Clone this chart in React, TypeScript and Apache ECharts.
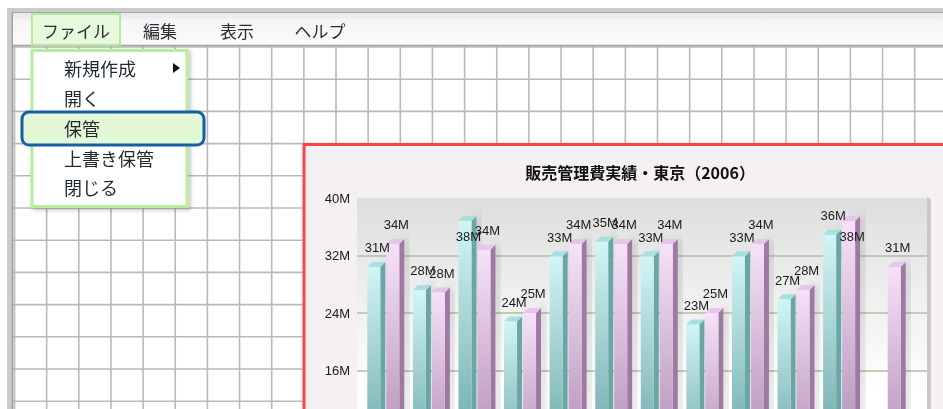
import React, { useEffect, useRef } from "react";
import * as echarts from "echarts";

// ---- data ----
const categories = ["1月", "2月", "3月", "4月", "5月", "6月", "7月", "8月", "9月", "10月", "11月", "12月"];
const cyanValues: (number | null)[] = [31.1, 27.9, 37.5, 23.5, 32.6, 34.6, 32.6, 23.1, 32.6, 26.6, 35.6, null];
const pinkValues: (number | null)[] = [34.3, 27.6, 33.5, 24.7, 34.3, 34.3, 34.3, 24.7, 34.3, 27.9, 37.5, 31.1];
const yMin = 0;
const yMax = 40;
const yInterval = 8;
const yUnit = "M";
const chartTitle = "販売管理費実績・東京（2006）";
const menuBarItems = ["ファイル", "編集", "表示", "ヘルプ"];
const fileMenuItems = ["新規作成", "開く", "保管", "上書き保管", "閉じる"];
const selectedFileItem = "保管";

const FONT_JP = '"Noto Sans CJK JP", "Noto Sans", sans-serif';
const FONT_LAT = '"Liberation Sans", Arial, sans-serif';

type BarColors = { top0: string; top1: string; side: string; cap: string };
const cyanColors: BarColors = { top0: "#d2f5f5", top1: "#5e9c9c", side: "#6aa6a6", cap: "#a8e0e0" };
const pinkColors: BarColors = { top0: "#f6e2f8", top1: "#a882ad", side: "#9e7aa3", cap: "#e4c6e8" };

function makeRender(offset: number, c: BarColors) {
  return (params: any, api: any) => {
    const cat = api.value(0);
    const v = api.value(1);
    if (v == null || isNaN(v)) return null;
    const p = api.coord([cat, v]);
    const base = api.coord([cat, yMin])[1];
    const topLimit = api.coord([cat, yMax])[1];
    const FW = 13, D = 5, H = 5;
    const x0 = p[0] + offset;
    const yb = p[1];
    const yf = yb + H;
    let ly = yb - 14;
    if (ly - 7 < topLimit) ly = yb + 21;
    return {
      type: "group",
      children: [
        {
          type: "polygon",
          shape: { points: [[x0 + FW, yf], [x0 + FW + D, yb], [x0 + FW + D, base - H], [x0 + FW, base]] },
          style: { fill: c.side, shadowBlur: 10, shadowColor: "rgba(0,0,0,0.22)", shadowOffsetX: 3, shadowOffsetY: -2 },
        },
        {
          type: "rect",
          shape: { x: x0, y: yf, width: FW, height: base - yf },
          style: {
            fill: new echarts.graphic.LinearGradient(0, 0, 0, 1, [
              { offset: 0, color: c.top0 },
              { offset: 1, color: c.top1 },
            ]),
          },
        },
        {
          type: "polygon",
          shape: { points: [[x0, yf], [x0 + FW, yf], [x0 + FW + D, yb], [x0 + D, yb]] },
          style: { fill: c.cap },
        },
        {
          type: "text",
          x: x0 + (FW + D) / 2 + 1,
          y: ly,
          z2: 100,
          style: {
            text: Math.round(v) + yUnit,
            textAlign: "center",
            textVerticalAlign: "middle",
            font: "13px " + FONT_LAT,
            fill: "#1a1a1a",
          },
        },
      ],
    };
  };
}

function buildGraphics() {
  const els: any[] = [];
  els.push({ type: "rect", shape: { x: 0, y: 0, width: 943, height: 409 }, style: { fill: "#ffffff" } });
  for (let k = 0; k <= 29; k++) {
    const x = 14.5 + 32.15 * k;
    els.push({ type: "line", shape: { x1: x, y1: 46, x2: x, y2: 409 }, style: { stroke: "#b9b9b9", lineWidth: 1.6 } });
  }
  for (let k = 0; k <= 11; k++) {
    const y = 47 + 32.2 * k;
    els.push({ type: "line", shape: { x1: 13, y1: y, x2: 943, y2: y }, style: { stroke: "#b9b9b9", lineWidth: 1.6 } });
  }
  els.push({ type: "rect", shape: { x: 7, y: 8, width: 5, height: 401 }, style: { fill: "#cbcbcb" } });
  els.push({ type: "rect", shape: { x: 7, y: 8, width: 936, height: 4 }, style: { fill: "#cbcbcb" } });
  els.push({ type: "line", shape: { x1: 12.5, y1: 12, x2: 12.5, y2: 409 }, style: { stroke: "#9c9c9c", lineWidth: 1.5 } });
  els.push({
    type: "rect",
    shape: { x: 13, y: 12.5, width: 930, height: 33 },
    style: {
      fill: new echarts.graphic.LinearGradient(0, 0, 0, 1, [
        { offset: 0, color: "#e6e6e6" },
        { offset: 0.25, color: "#f6f4f6" },
        { offset: 1, color: "#fbfbfb" },
      ]),
    },
  });
  els.push({ type: "line", shape: { x1: 13, y1: 12.5, x2: 943, y2: 12.5 }, style: { stroke: "#a8a8a8", lineWidth: 1 } });
  els.push({ type: "line", shape: { x1: 13, y1: 45.5, x2: 943, y2: 45.5 }, style: { stroke: "#a0a0a0", lineWidth: 1.5 } });
  els.push({
    type: "rect",
    shape: { x: 32, y: 14, width: 88, height: 31 },
    style: { fill: "#e6f9dc", stroke: "#b2ec98", lineWidth: 2 },
  });
  const menuCenters = [76, 160, 237, 320];
  menuBarItems.forEach((t, i) => {
    els.push({
      type: "text",
      x: menuCenters[i],
      y: 30,
      style: { text: t, textAlign: "center", textVerticalAlign: "middle", font: "17px " + FONT_JP, fill: "#2a2f36" },
    });
  });
  els.push({
    type: "rect",
    shape: { x: 32, y: 50.5, width: 155, height: 156 },
    style: { fill: "#ffffff", stroke: "#b6ee9c", lineWidth: 3, shadowBlur: 4, shadowColor: "rgba(0,0,0,0.25)", shadowOffsetX: 2, shadowOffsetY: 2 },
  });
  const itemY = [68, 98, 128, 158, 187];
  fileMenuItems.forEach((t, i) => {
    if (t === selectedFileItem) {
      els.push({
        type: "rect",
        shape: { x: 22, y: itemY[i] - 16, width: 182, height: 33, r: 7 },
        style: { fill: "#e3f8d6", stroke: "#165ea6", lineWidth: 3 },
      });
    }
    els.push({
      type: "text",
      x: 64,
      y: itemY[i],
      style: { text: t, textAlign: "left", textVerticalAlign: "middle", font: "18px " + FONT_JP, fill: "#1f2830" },
    });
  });
  els.push({
    type: "polygon",
    shape: { points: [[173, 63], [180, 68], [173, 73]] },
    style: { fill: "#111111" },
  });
  els.push({
    type: "rect",
    shape: { x: 304, y: 144.5, width: 660, height: 300 },
    style: { fill: "#f4f0f4", stroke: "#ff4242", lineWidth: 3 },
  });
  els.push({
    type: "rect",
    shape: { x: 357, y: 198, width: 570, height: 230 },
    style: {
      fill: new echarts.graphic.LinearGradient(0, 0, 0, 1, [
        { offset: 0, color: "#dedede" },
        { offset: 0.45, color: "#f0f0f0" },
        { offset: 0.85, color: "#ffffff" },
        { offset: 1, color: "#ffffff" },
      ]),
    },
  });
  els.push({
    type: "polygon",
    shape: { points: [[927, 196], [931, 200], [931, 409], [927, 409]] },
    style: { fill: "#c9c9c9" },
  });
  els.push({
    type: "text",
    x: 640,
    y: 172,
    style: { text: chartTitle, textAlign: "center", textVerticalAlign: "middle", font: "bold 16px " + FONT_JP, fill: "#111111" },
  });
  return els.map((e, i) => ({ ...e, z: -5, z2: i, silent: true }));
}

export default function App() {
  const ref = useRef<HTMLDivElement>(null);
  useEffect(() => {
    if (!ref.current) return;
    const chart = echarts.init(ref.current, undefined, { renderer: "svg" });
    const gridLineColors = ["#b5bd9f", "#b5bd9f", "#b5bd9f", "#b5bd9f", "#b5bd9f", "rgba(0,0,0,0)"];
    chart.setOption({
      animation: false,
      graphic: { elements: buildGraphics() },
      grid: [
        { left: 357, top: 198, width: 570, height: 287.5, outerBoundsMode: "none", containLabel: false },
        { left: 363, top: 198, width: 547, height: 287.5, outerBoundsMode: "none", containLabel: false },
      ],
      xAxis: [
        { type: "category", gridIndex: 0, data: categories, show: false },
        { type: "category", gridIndex: 1, data: categories, show: false },
      ],
      yAxis: [
        {
          type: "value",
          gridIndex: 0,
          min: yMin,
          max: yMax,
          interval: yInterval,
          axisLine: { show: false },
          axisTick: { show: false },
          axisLabel: { formatter: (v: number) => v + yUnit, color: "#1a1a1a", fontSize: 13, fontFamily: FONT_LAT, margin: 7 },
          splitLine: { show: true, lineStyle: { color: gridLineColors, width: 1.5 } },
        },
        { type: "value", gridIndex: 1, min: yMin, max: yMax, interval: yInterval, show: false, splitLine: { show: false } },
      ],
      series: [
        {
          type: "custom",
          name: "cyan",
          xAxisIndex: 1,
          yAxisIndex: 1,
          renderItem: makeRender(-18.5, cyanColors),
          encode: { x: 0, y: 1 },
          data: cyanValues.map((v, i) => [i, v]).filter((d) => d[1] != null),
        },
        {
          type: "custom",
          name: "pink",
          xAxisIndex: 1,
          yAxisIndex: 1,
          renderItem: makeRender(0.5, pinkColors),
          encode: { x: 0, y: 1 },
          data: pinkValues.map((v, i) => [i, v]).filter((d) => d[1] != null),
        },
      ],
    });
    return () => chart.dispose();
  }, []);
  return <div ref={ref} style={{ position: "fixed", left: 0, top: 0, width: 943, height: 409 }} />;
}
